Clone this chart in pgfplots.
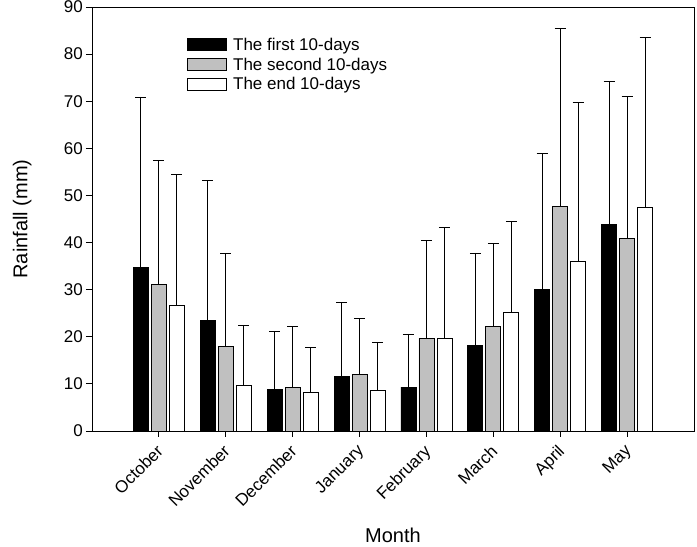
\documentclass[border=0pt]{standalone}
\usepackage{pgfplots}
\pgfplotsset{compat=1.18}
\usepackage{pgfplotstable}
\usepackage{fontspec}
\setmainfont{Liberation Sans}
\definecolor{silver}{HTML}{C0C0C0}
\pgfplotstableread{
x y ey
0 34.7 36.2
1 23.5 29.7
2 8.9 12.2
3 11.5 15.8
4 9.3 11.3
5 18.2 19.6
6 30.0 28.9
7 43.8 30.5
}\first
\pgfplotstableread{
x y ey
0 31.1 26.4
1 18.0 19.7
2 9.2 12.9
3 12.0 11.9
4 19.7 20.7
5 22.1 17.7
6 47.7 37.8
7 40.9 30.1
}\second
\pgfplotstableread{
x y ey
0 26.6 27.9
1 9.6 12.9
2 8.2 9.5
3 8.6 10.3
4 19.7 23.5
5 25.1 19.4
6 36.0 33.8
7 47.4 36.1
}\third
\begin{document}
\begin{tikzpicture}
\begin{axis}[
  scale only axis,
  width=602pt, height=424pt,
  xmin=-1, xmax=8, ymin=0, ymax=90,
  xtick={0,...,7},
  xticklabels={October,November,December,January,February,March,April,May},
  ytick={0,10,...,90},
  xtick pos=bottom, ytick pos=left,
  tick align=outside, major tick length=6pt,
  tick style={black, line width=0.8pt},
  axis line style={line width=0.8pt},
  /pgf/number format/assume math mode=true,
  tick label style={font=\fontsize{17}{20}\selectfont},
  yticklabel style={inner sep=3pt},
  xticklabel style={rotate=45, anchor=north east, inner sep=1pt, xshift=-6pt, yshift=-1pt},
  xlabel={Month}, ylabel={Rainfall (mm)},
  label style={font=\fontsize{20}{24}\selectfont},
  xlabel style={at={(axis description cs:0.5,-0.246)}, anchor=center},
  ylabel style={at={(axis description cs:-0.116,0.5)}, anchor=center},
  ybar, bar width=15pt,
  legend style={draw=none, fill=none, at={(axis description cs:0.158,0.93)}, anchor=north west,
    font=\fontsize{17}{20}\selectfont, row sep=4pt, inner sep=0pt,
    nodes={inner xsep=6pt, inner ysep=1pt}},
  legend cell align=left,
  legend image code/.code={\draw[#1, line width=0.8pt] (0pt,-6pt) rectangle (39pt,6pt);},
  error bars/error bar style={line width=0.8pt, black},
  error bars/error mark options={rotate=90, line width=0.8pt, black, mark size=5.5pt},
]
\addplot[fill=black, draw=black, line width=0.8pt, bar shift=-18pt,
  error bars/.cd, y dir=plus, y explicit] table[x=x, y=y, y error=ey] {\first};
\addplot[fill=silver, draw=black, line width=0.8pt, bar shift=0pt,
  error bars/.cd, y dir=plus, y explicit] table[x=x, y=y, y error=ey] {\second};
\addplot[fill=white, draw=black, line width=0.8pt, bar shift=18pt,
  error bars/.cd, y dir=plus, y explicit] table[x=x, y=y, y error=ey] {\third};
\legend{The first 10-days, The second 10-days, The end 10-days}
\end{axis}
\pgfresetboundingbox
\path ([xshift=-92pt,yshift=-116pt]current axis.south west) rectangle ([xshift=3pt,yshift=7pt]current axis.north east);
\end{tikzpicture}
\end{document}
